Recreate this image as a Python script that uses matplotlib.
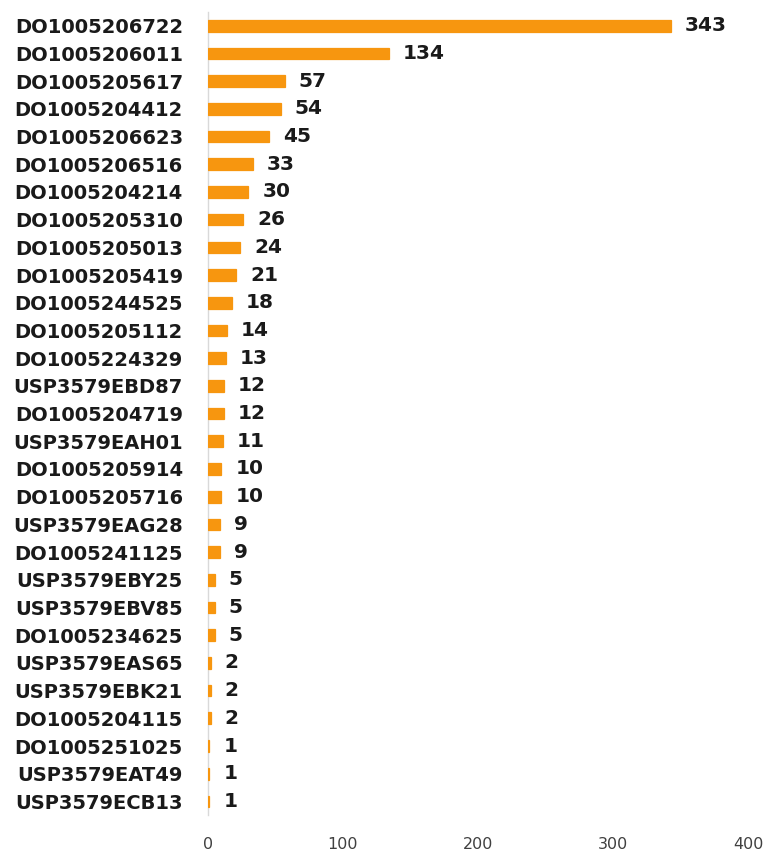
import matplotlib
matplotlib.use("Agg")
import matplotlib.pyplot as plt

CODES = [
    "DO1005206722", "DO1005206011", "DO1005205617", "DO1005204412",
    "DO1005206623", "DO1005206516", "DO1005204214", "DO1005205310",
    "DO1005205013", "DO1005205419", "DO1005244525", "DO1005205112",
    "DO1005224329", "USP3579EBD87", "DO1005204719", "USP3579EAH01",
    "DO1005205914", "DO1005205716", "USP3579EAG28", "DO1005241125",
    "USP3579EBY25", "USP3579EBV85", "DO1005234625", "USP3579EAS65",
    "USP3579EBK21", "DO1005204115", "DO1005251025", "USP3579EAT49",
    "USP3579ECB13",
]
COUNTS = [343, 134, 57, 54, 45, 33, 30, 26, 24, 21, 18, 14, 13, 12, 12,
          11, 10, 10, 9, 9, 5, 5, 5, 2, 2, 2, 1, 1, 1]
X_TICKS = [0, 100, 200, 300, 400]

BAR_COLOR = "#F7960F"
FONT = ["DejaVu Sans"]

fig = plt.figure(figsize=(7.63, 8.51), dpi=100)
ax = fig.add_axes([0.2726, 0.042, 0.7077, 0.944])

ypos = list(range(len(CODES)))
# bars above the spine so the 1-count bars still show as small ticks
ax.barh(ypos, COUNTS, height=0.42, color=BAR_COLOR,
        edgecolor=BAR_COLOR, linewidth=0.9, zorder=3)

for y, v in zip(ypos, COUNTS):
    ax.annotate(str(v), (v, y), xytext=(10, 0), textcoords="offset points",
                va="center", ha="left", fontsize=14.5, fontweight="bold",
                family=FONT, color="#1a1a1a")

ax.set_ylim(len(CODES) - 0.5, -0.5)
ax.set_xlim(0, 400)
ax.set_xticks(X_TICKS)
ax.set_xticklabels([str(t) for t in X_TICKS], family=FONT, fontsize=11.5,
                   color="#404040")
ax.set_yticks(ypos)
ax.set_yticklabels(CODES, family=FONT, fontsize=14, fontweight="bold",
                   color="#1a1a1a")
ax.tick_params(axis="both", length=0)
ax.tick_params(axis="y", pad=18)
ax.tick_params(axis="x", pad=16)

for side in ("top", "right", "bottom"):
    ax.spines[side].set_visible(False)
ax.spines["left"].set_color("#d9d9d9")
ax.spines["left"].set_linewidth(1.0)

fig.savefig("out.png", dpi=100)
